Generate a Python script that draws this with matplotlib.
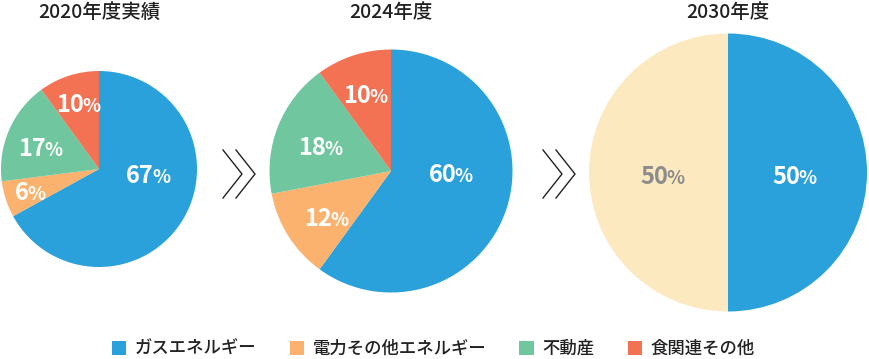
import matplotlib
matplotlib.use("Agg")
import matplotlib.pyplot as plt
from matplotlib.patches import Patch
from matplotlib.lines import Line2D

plt.rcParams['font.family'] = ['Noto Sans CJK JP', 'DejaVu Sans']

W, H = 870, 359

categories = ["ガスエネルギー", "電力その他エネルギー", "不動産", "食関連その他"]
colors = ["#2AA1DB", "#FBB26E", "#6FC69F", "#F37254"]
cream = "#FDE9C0"

titles = ["2020年度実績", "2024年度", "2030年度"]
values_2020 = [67, 6, 17, 10]
values_2024 = [60, 12, 18, 10]
values_2030 = [50, 50]
labels_2020 = ["67", "6", "17", "10"]
labels_2024 = ["60", "12", "18", "10"]
labels_2030 = ["50", "50"]

# layout (pixels): center x, center y, radius
pies = [
    dict(vals=values_2020, labs=labels_2020, cols=colors, cx=99, cy=169, r=98,
         lpos=[(0.50, -0.06), (-0.70, -0.23), (-0.60, 0.22), (-0.21, 0.67)],
         lcol=["white"] * 4),
    dict(vals=values_2024, labs=labels_2024, cols=colors, cx=391, cy=171, r=121.5,
         lpos=[(0.49, -0.02), (-0.53, -0.38), (-0.58, 0.20), (-0.21, 0.63)],
         lcol=["white"] * 4),
    dict(vals=values_2030, labs=labels_2030, cols=[colors[0], cream], cx=728, cy=172.5, r=139,
         lpos=[(0.48, -0.02), (-0.47, -0.02)],
         lcol=["white", "#8C8C8C"]),
]

NUM_FS, PCT_FS = 17, 13.5
BASE_OFF = -6.2

fig = plt.figure(figsize=(W / 100, H / 100), dpi=100)
fig.patch.set_facecolor("white")

text_pairs = []
for p, title in zip(pies, titles):
    cx, cy, r = p["cx"], p["cy"], p["r"]
    ax = fig.add_axes([(cx - r) / W, (H - cy - r) / H, 2 * r / W, 2 * r / H])
    ax.pie(p["vals"], colors=p["cols"], startangle=90, counterclock=False,
           radius=1, wedgeprops=dict(linewidth=0))
    ax.set_xlim(-1, 1)
    ax.set_ylim(-1, 1)
    ax.set_aspect("auto")
    ax.axis("off")
    for lab, (lx, ly), lc in zip(p["labs"], p["lpos"], p["lcol"]):
        t1 = ax.annotate(lab, (lx, ly), xytext=(0, BASE_OFF), textcoords="offset points",
                         ha="right", va="baseline", fontsize=NUM_FS, fontweight="bold", color=lc)
        t2 = ax.annotate("%", (lx, ly), xytext=(0, BASE_OFF), textcoords="offset points",
                         ha="left", va="baseline", fontsize=PCT_FS, fontweight="bold", color=lc)
        text_pairs.append((t1, t2))
    fig.text(cx / W, 1 - 12 / H, title, ha="center", va="center", fontsize=14,
             fontweight="medium", color="#222222")

# center the number+% groups
fig.canvas.draw()
renderer = fig.canvas.get_renderer()
for t1, t2 in text_pairs:
    w1 = t1.get_window_extent(renderer).width
    w2 = t2.get_window_extent(renderer).width
    shift = (w1 - w2) / 2 * 72 / fig.dpi
    t1.set_position((shift + 0.6, BASE_OFF))
    t2.set_position((shift - 0.6, BASE_OFF))

# chevrons
def chevron(x0, x1, ytop, ybot, ymid):
    fig.add_artist(Line2D([x0 / W, x1 / W, x0 / W],
                          [1 - ytop / H, 1 - ymid / H, 1 - ybot / H],
                          color="#222222", linewidth=1.0, transform=fig.transFigure))

for base in (223, 543):
    chevron(base, base + 19, 150, 198, 174)
    chevron(base + 13, base + 32, 150, 198, 174)

handles = [Patch(facecolor=c, edgecolor="none") for c in colors]
fig.legend(handles, categories, loc="center", bbox_to_anchor=(433.5 / W, 1 - 349 / H),
           ncol=4, frameon=False, fontsize=12.5, handlelength=0.81, handleheight=0.81,
           handletextpad=0.52, columnspacing=1.9, labelcolor="#222222",
           borderpad=0, borderaxespad=0, prop=dict(weight="medium", size=12.5))

fig.savefig("out.png", dpi=100, facecolor="white")
